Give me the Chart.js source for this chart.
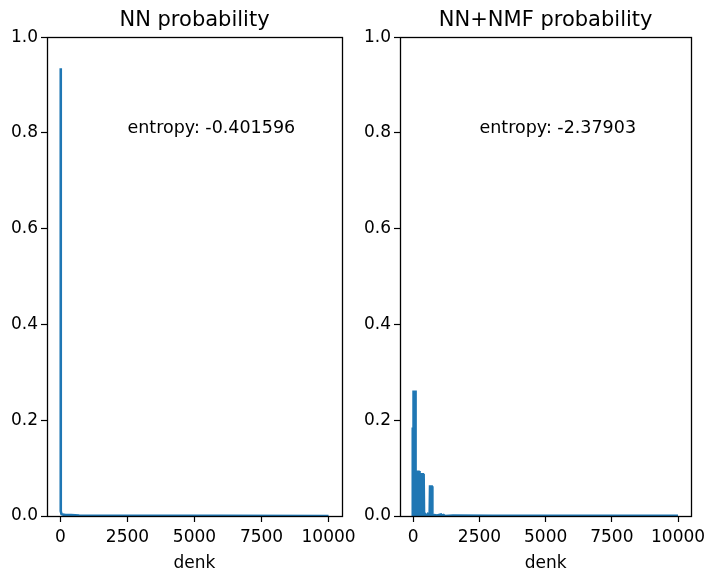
<!DOCTYPE html>
<html>
<head>
<meta charset="utf-8">
<script src="https://cdn.jsdelivr.net/npm/chart.js@4/dist/chart.umd.min.js"></script>
<style>
    body { margin: 0; background: #fff; }
    .wrap { position: relative; width: 711px; height: 569px; }
    canvas { position: absolute; top: 0; }
</style>
</head>
<body>
<div class="wrap">
    <canvas id="left" width="380" height="569" style="left:0;width:380px;height:569px"></canvas>
    <canvas id="right" width="358" height="569" style="left:353px;width:358px;height:569px"></canvas>
</div>
<script>
// tick labels
const xTicks = [0, 2500, 5000, 7500, 10000];
const yTicks = [0, 0.2, 0.4, 0.6, 0.8, 1.0];
const xLabel = 'denk';

// NN probability
const nnTitle = 'NN probability';
const nnNote = 'entropy: -0.401596';
const nnX = [0, 4, 10, 16, 22, 40, 80, 200, 400, 700, 1500, 3000, 6000, 9999];
const nnY = [0.01, 0.935, 0.93, 0.935, 0.01, 0.004, 0.003, 0.002, 0.002, 0.001, 0.0005, 0.0003, 0.0002, 0.0001];

// NN+NMF probability
const nmfTitle = 'NN+NMF probability';
const nmfNote = 'entropy: -2.37903';
const nmfX = [-30, -25, -20, -15, -10, -5, 0, 5, 10, 15, 20, 25, 30, 35, 40, 45, 50, 55, 60, 65, 70, 75, 80, 85, 90, 95, 100,
    105, 112, 120, 128, 135, 142, 150, 158, 165, 172, 180, 188, 195, 202, 210, 218, 225,
    232, 240, 248, 256, 264, 272, 280, 290, 298,
    305, 312, 320, 328, 336, 344, 352, 360, 368, 376, 384, 392, 400, 408,
    450, 500, 550, 600, 620,
    635, 642, 650, 658, 666, 674, 682, 690, 698, 706, 714, 722,
    800, 900, 1050, 1100, 1150, 1200, 1500, 3000, 6000, 9999];
const nmfY = [0.0, 0.185, 0.0, 0.18, 0.0, 0.185, 0.01, 0.262, 0.01, 0.26, 0.02, 0.262, 0.01, 0.26, 0.0, 0.258, 0.01, 0.262, 0.0, 0.25, 0.01, 0.26, 0.0, 0.24, 0.01, 0.262, 0.0,
    0.095, 0.0, 0.09, 0.01, 0.095, 0.0, 0.085, 0.0, 0.095, 0.01, 0.09, 0.0, 0.095, 0.0, 0.09, 0.0, 0.094,
    0.0, 0.064, 0.0, 0.06, 0.0, 0.064, 0.01, 0.062, 0.0,
    0.088, 0.0, 0.085, 0.0, 0.09, 0.0, 0.088, 0.01, 0.09, 0.0, 0.086, 0.0, 0.088, 0.0,
    0.004, 0.0, 0.004, 0.001, 0.0,
    0.064, 0.0, 0.062, 0.0, 0.064, 0.0, 0.06, 0.0, 0.064, 0.0, 0.062, 0.0,
    0.002, 0.001, 0.003, 0.0, 0.002, 0.0, 0.001, 0.0005, 0.0003, 0.0002];

const font = 'DejaVu Sans';

const framePlugin = {
    id: 'frame',
    afterDraw(chart) {
        const a = chart.chartArea;
        const ctx = chart.ctx;
        ctx.save();
        ctx.strokeStyle = '#000';
        ctx.lineWidth = 1.3;
        ctx.strokeRect(Math.round(a.left) + 0.5, Math.round(a.top) + 0.5,
            Math.round(a.right - a.left), Math.round(a.bottom - a.top));
        ctx.restore();
    }
};

const notePlugin = {
    id: 'note',
    afterDatasetsDraw(chart, args, opts) {
        const ctx = chart.ctx;
        ctx.save();
        ctx.fillStyle = '#000';
        ctx.font = '17.5px "' + font + '"';
        ctx.textBaseline = 'alphabetic';
        ctx.textAlign = 'left';
        ctx.fillText(opts.text, chart.scales.x.getPixelForValue(2500), chart.scales.y.getPixelForValue(0.8));
        ctx.restore();
    }
};

function makeChart(id, title, note, xs, ys, padRight) {
    const points = xs.map((x, i) => ({x: x, y: ys[i]}));
    return new Chart(document.getElementById(id), {
        type: 'line',
        data: {
            datasets: [{
                data: points,
                borderColor: '#1f77b4',
                borderWidth: 2.6,
                pointRadius: 0,
                tension: 0,
                fill: false
            }]
        },
        options: {
            responsive: false,
            animation: false,
            layout: {padding: {left: 0, right: padRight, top: 0, bottom: 0}},
            plugins: {
                legend: {display: false},
                tooltip: {enabled: false},
                title: {
                    display: true,
                    text: title,
                    fullSize: false,
                    color: '#000',
                    font: {family: font, size: 21, weight: 'normal'},
                    padding: {top: 8, bottom: 4}
                },
                note: {text: note}
            },
            scales: {
                x: {
                    type: 'linear',
                    min: -500,
                    max: 10500,
                    afterBuildTicks: s => { s.ticks = xTicks.map(v => ({value: v})); },
                    afterFit: s => { s.height = 53; },
                    border: {display: false},
                    grid: {drawOnChartArea: false, tickLength: 6, tickColor: '#000', tickWidth: 1.2},
                    ticks: {color: '#000', font: {family: font, size: 17}, padding: 5, maxRotation: 0,
                        callback: v => String(v)},
                    title: {display: true, text: xLabel, color: '#000',
                        font: {family: font, size: 17, lineHeight: 0.65}, padding: {top: 0, bottom: 0}}
                },
                y: {
                    min: 0,
                    max: 1,
                    afterBuildTicks: s => { s.ticks = yTicks.map(v => ({value: v})); },
                    afterFit: s => { s.width = 47; },
                    border: {display: false},
                    grid: {drawOnChartArea: false, tickLength: 6, tickColor: '#000', tickWidth: 1.2},
                    ticks: {color: '#000', font: {family: font, size: 17}, padding: 3,
                        callback: v => v.toFixed(1)}
                }
            }
        },
        plugins: [framePlugin, notePlugin]
    });
}

makeChart('left', nnTitle, nnNote, nnX, nnY, 38);
makeChart('right', nmfTitle, nmfNote, nmfX, nmfY, 17);
</script>
</body>
</html>
